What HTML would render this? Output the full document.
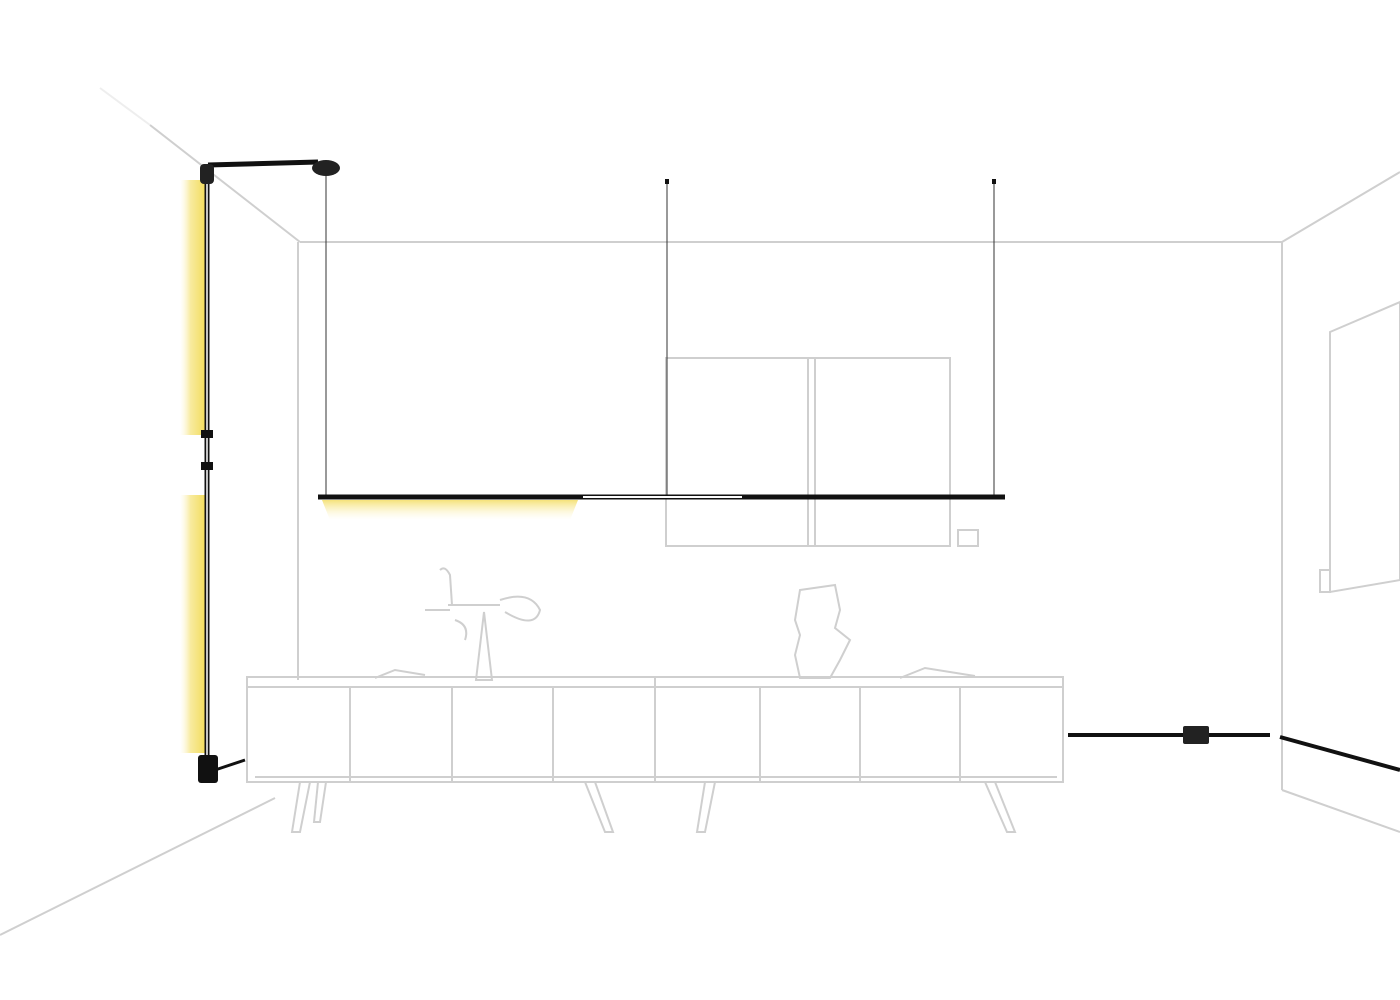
<!DOCTYPE html>
<html><head><meta charset="utf-8"><style>
html,body{margin:0;padding:0;background:#fff;width:1400px;height:1000px;overflow:hidden}
</style></head><body>
<svg width="1400" height="1000" viewBox="0 0 1400 1000" xmlns="http://www.w3.org/2000/svg">
<defs>
<linearGradient id="gl" x1="1" x2="0" y1="0" y2="0"><stop offset="0" stop-color="#f2dc5a"/><stop offset="0.6" stop-color="#f8eba0"/><stop offset="1" stop-color="#fdf6d0" stop-opacity="0"/></linearGradient>
<linearGradient id="gb" x1="0" x2="0" y1="0" y2="1"><stop offset="0" stop-color="#f5e27a"/><stop offset="1" stop-color="#fdf6d0" stop-opacity="0"/></linearGradient>
</defs>
<rect width="1400" height="1000" fill="#fff"/>
<g stroke="#cfcfcf" stroke-width="2" fill="none">
<line x1="150" y1="125" x2="300" y2="242"/>
<line x1="100" y1="88" x2="150" y2="125" stroke="#eee"/>
<line x1="300" y1="242" x2="1282" y2="242"/>
<line x1="298" y1="242" x2="298" y2="680"/>
<line x1="1282" y1="242" x2="1282" y2="790"/>
<line x1="1282" y1="242" x2="1400" y2="172"/>
<line x1="0" y1="935" x2="275" y2="798"/>
<line x1="1282" y1="790" x2="1400" y2="832"/>
<polygon points="1330,332 1400,302 1400,580 1330,592"/>
<rect x="1320" y="570" width="10" height="22"/>
<rect x="666" y="358" width="284" height="188"/>
<line x1="808" y1="358" x2="808" y2="546"/>
<line x1="815" y1="358" x2="815" y2="546"/>
<rect x="958" y="530" width="20" height="16"/>
<rect x="247" y="677" width="816" height="105"/>
<line x1="247" y1="687" x2="1063" y2="687"/>
<line x1="655" y1="677" x2="655" y2="782"/>
<line x1="350" y1="687" x2="350" y2="782"/>
<line x1="452" y1="687" x2="452" y2="782"/>
<line x1="553" y1="687" x2="553" y2="782"/>
<line x1="760" y1="687" x2="760" y2="782"/>
<line x1="860" y1="687" x2="860" y2="782"/>
<line x1="960" y1="687" x2="960" y2="782"/>
<line x1="255" y1="777" x2="1057" y2="777"/>
<polygon points="300,782 310,782 300,832 292,832"/>
<polygon points="318,782 326,782 320,822 314,822"/>
<polygon points="585,782 595,782 613,832 605,832"/>
<polygon points="705,782 715,782 705,832 697,832"/>
<polygon points="985,782 995,782 1015,832 1007,832"/>
<polygon points="476,680 484,612 492,680"/>
<path d="M448,605 L500,605 M500,600 Q530,590 540,610 Q535,630 505,612"/>
<path d="M440,570 Q445,565 450,575 L452,605 M425,610 l25,0 M455,620 q15,5 10,20"/>
<path d="M800,590 L835,585 L840,610 L835,628 L850,640 L840,660 L830,678 L800,678 L795,655 L800,635 L795,620 Z"/>
<path d="M375,678 l20,-8 l30,5 M900,678 l25,-10 l50,8"/>
</g>
<rect x="180" y="180" width="26" height="255" fill="url(#gl)"/>
<rect x="180" y="495" width="26" height="258" fill="url(#gl)"/>
<polygon points="322,500 578,500 570,520 330,520" fill="url(#gb)"/>
<g stroke="#333" stroke-width="1" fill="none">
<line x1="326" y1="172" x2="326" y2="497"/>
<line x1="667" y1="182" x2="667" y2="497"/>
<line x1="994" y1="182" x2="994" y2="497"/>
</g>
<rect x="665" y="179" width="4" height="5" fill="#111"/>
<rect x="992" y="179" width="4" height="5" fill="#111"/>
<g stroke="#111" fill="none">
<line x1="318" y1="497" x2="1005" y2="497" stroke-width="5"/>
<line x1="207" y1="172" x2="207" y2="770" stroke-width="5"/>
<line x1="208" y1="165" x2="318" y2="162" stroke-width="5"/>
<line x1="1068" y1="735" x2="1270" y2="735" stroke-width="4"/>
<line x1="1280" y1="737" x2="1400" y2="770" stroke-width="4"/>
<line x1="215" y1="770" x2="245" y2="760" stroke-width="3"/>
</g>
<line x1="207" y1="180" x2="207" y2="760" stroke="#fff" stroke-width="1.5"/>
<line x1="583" y1="497" x2="742" y2="497" stroke="#fff" stroke-width="2"/>
<ellipse cx="326" cy="168" rx="14" ry="8" fill="#222"/>
<rect x="198" y="755" width="20" height="28" rx="3" fill="#111"/>
<rect x="1183" y="726" width="26" height="18" rx="2" fill="#222"/>
<rect x="201" y="430" width="12" height="8" fill="#111"/>
<rect x="201" y="462" width="12" height="8" fill="#111"/>
<rect x="200" y="164" width="14" height="20" rx="4" fill="#222"/>
</svg>
</body></html>
